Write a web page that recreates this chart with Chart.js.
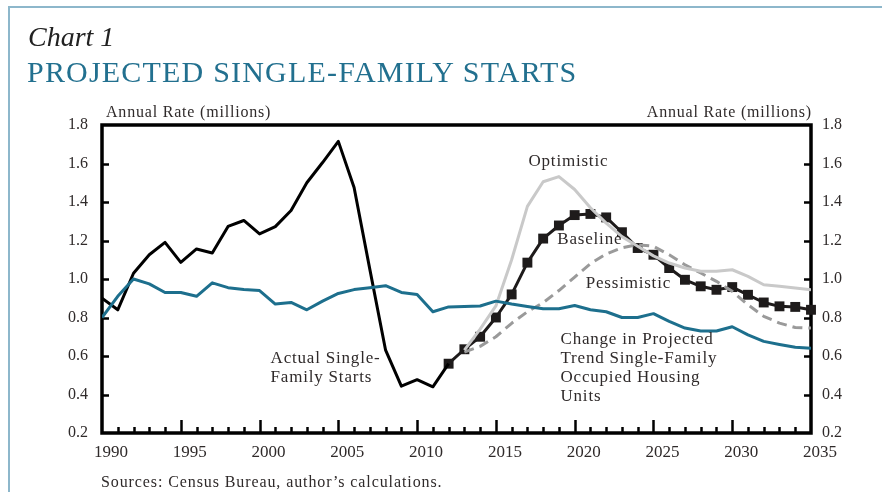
<!DOCTYPE html>
<html>
<head>
<meta charset="utf-8">
<title>Projected Single-Family Starts</title>
<script src="https://cdn.jsdelivr.net/npm/chart.js@4/dist/chart.umd.min.js"></script>
<style>
  html, body { margin: 0; padding: 0; background: #fff; }
  body { width: 882px; height: 492px; position: relative; overflow: hidden; font-family: "Liberation Serif", serif; color: #2f2a2a; }
  .frame { position: absolute; left: 8px; top: 6px; right: 0; bottom: 0; border-top: 2px solid #8db7cb; border-left: 2px solid #8db7cb; }
  #chart { position: absolute; left: 0; top: 0; }
  .txt { position: absolute; white-space: nowrap; z-index: 2; }
  .chart-no { left: 28px; top: 21px; font-size: 28px; font-style: italic; color: #222; }
  .title { left: 27px; top: 55px; font-size: 30px; color: #22708f; letter-spacing: 1.2px; }
  .unit { top: 103px; font-size: 16px; letter-spacing: 0.8px; }
  .sources { left: 101px; top: 473px; font-size: 16px; letter-spacing: 0.9px; }
</style>
</head>
<body>
<div class="frame"></div>
<div class="txt chart-no">Chart 1</div>
<div class="txt title">PROJECTED SINGLE-FAMILY STARTS</div>
<div class="txt unit" style="left:106px">Annual Rate (millions)</div>
<div class="txt unit" style="right:70px">Annual Rate (millions)</div>
<div class="txt sources">Sources: Census Bureau, author’s calculations.</div>
<canvas id="chart" width="882" height="492"></canvas>
<script>
// ===== Data =====
const actualYears = [1990, 1991, 1992, 1993, 1994, 1995, 1996, 1997, 1998, 1999, 2000, 2001,
  2002, 2003, 2004, 2005, 2006, 2007, 2008, 2009, 2010, 2011, 2012];
const actualStarts = [0.90, 0.84, 1.03, 1.126, 1.19, 1.086, 1.156, 1.135, 1.273, 1.304, 1.234, 1.272,
  1.356, 1.50, 1.605, 1.715, 1.475, 1.05, 0.63, 0.443, 0.477, 0.44, 0.56];

const trendYears = [1990, 1991, 1992, 1993, 1994, 1995, 1996, 1997, 1998, 1999, 2000, 2001, 2002,
  2003, 2004, 2005, 2006, 2007, 2008, 2009, 2010, 2011, 2012, 2013, 2014, 2015, 2016, 2017, 2018,
  2019, 2020, 2021, 2022, 2023, 2024, 2025, 2026, 2027, 2028, 2029, 2030, 2031, 2032, 2033, 2034, 2035];
const trendHousing = [0.80, 0.91, 1.00, 0.975, 0.93, 0.93, 0.91, 0.98, 0.955, 0.945, 0.94, 0.87, 0.878,
  0.84, 0.885, 0.925, 0.945, 0.955, 0.965, 0.93, 0.92, 0.83, 0.855, 0.857, 0.86, 0.885, 0.87, 0.857, 0.845,
  0.845, 0.862, 0.84, 0.83, 0.80, 0.80, 0.82, 0.78, 0.745, 0.73, 0.73, 0.752, 0.71, 0.676, 0.66, 0.645, 0.64];

const baselineYears = [2012, 2013, 2014, 2015, 2016, 2017, 2018, 2019, 2020, 2021, 2022, 2023,
  2024, 2025, 2026, 2027, 2028, 2029, 2030, 2031, 2032, 2033, 2034, 2035];
const baseline = [0.56, 0.635, 0.70, 0.80, 0.92, 1.085, 1.21, 1.278, 1.332, 1.338, 1.32, 1.243,
  1.161, 1.126, 1.057, 0.996, 0.962, 0.944, 0.958, 0.918, 0.878, 0.858, 0.855, 0.84];

const scenarioYears = [2013, 2014, 2015, 2016, 2017, 2018, 2019, 2020, 2021, 2022, 2023, 2024,
  2025, 2026, 2027, 2028, 2029, 2030, 2031, 2032, 2033, 2034, 2035];
const optimistic = [0.63, 0.74, 0.86, 1.10, 1.377, 1.505, 1.532, 1.465, 1.37, 1.29, 1.22, 1.17,
  1.12, 1.083, 1.057, 1.04, 1.04, 1.048, 1.014, 0.97, 0.962, 0.953, 0.944];
const pessimistic = [0.62, 0.65, 0.70, 0.77, 0.83, 0.877, 0.94, 1.01, 1.08, 1.13, 1.162, 1.178,
  1.17, 1.126, 1.074, 1.031, 0.988, 0.936, 0.866, 0.806, 0.771, 0.748, 0.745];

const yTicks = [0.2, 0.4, 0.6, 0.8, 1.0, 1.2, 1.4, 1.6, 1.8];
const xTicks = [1990, 1995, 2000, 2005, 2010, 2015, 2020, 2025, 2030, 2035];

const toPoints = (xs, ys) => xs.map((x, i) => ({ x, y: ys[i] }));

// ===== Styles =====
const FONT = '"Liberation Serif", serif';
const TEXT = '#2f2a2a';
const TEAL = '#1d6f8d';

// ===== Frame, inward ticks and in-plot labels =====
const framePlugin = {
  id: 'frame',
  beforeDatasetsDraw(chart) {
    const { ctx, chartArea: a, scales } = chart;
    ctx.save();
    ctx.strokeStyle = '#000';
    ctx.lineWidth = 2.5;
    ctx.beginPath();
    yTicks.slice(1, -1).forEach(v => {
      const py = Math.round(scales.y.getPixelForValue(v)) + 0.5;
      ctx.moveTo(a.left, py); ctx.lineTo(a.left + 7, py);
      ctx.moveTo(a.right, py); ctx.lineTo(a.right - 7, py);
    });
    for (let yr = 1991; yr < 2035; yr++) {
      const px = Math.round(scales.x.getPixelForValue(yr)) + 0.5;
      const len = yr % 5 === 0 ? 13 : 6;
      ctx.moveTo(px, a.bottom); ctx.lineTo(px, a.bottom - len);
    }
    ctx.stroke();
    ctx.lineWidth = 3.5;
    ctx.strokeRect(a.left, a.top, a.right - a.left, a.bottom - a.top);
    ctx.restore();
  },
  afterDraw(chart) {
    const { ctx, scales } = chart;
    const labels = [
      { x: 2019.6, y: 1.61, lines: ['Optimistic'], align: 'center' },
      { x: 2018.9, y: 1.204, lines: ['Baseline'], align: 'left' },
      { x: 2020.7, y: 0.976, lines: ['Pessimistic'], align: 'left' },
      { x: 2019.1, y: 0.685, lines: ['Change in Projected', 'Trend Single-Family', 'Occupied Housing', 'Units'], align: 'left' },
      { x: 2000.7, y: 0.589, lines: ['Actual Single-', 'Family Starts'], align: 'left' },
    ];
    ctx.save();
    ctx.font = '17px ' + FONT;
    ctx.letterSpacing = '0.8px';
    ctx.fillStyle = TEXT;
    ctx.textBaseline = 'middle';
    labels.forEach(l => {
      ctx.textAlign = l.align;
      const px = scales.x.getPixelForValue(l.x);
      const py = scales.y.getPixelForValue(l.y);
      l.lines.forEach((t, i) => ctx.fillText(t, px, py + i * 19));
    });
    ctx.restore();
  }
};

const yScale = (position, width, padding) => ({
  type: 'linear',
  position,
  min: 0.2,
  max: 1.8,
  grid: { display: false, drawTicks: false },
  border: { display: false },
  ticks: {
    stepSize: 0.2,
    padding,
    color: TEXT,
    font: { family: FONT, size: 16 },
    callback: v => v.toFixed(1)
  },
  afterFit: s => { s.width = width; }
});

new Chart(document.getElementById('chart'), {
  type: 'line',
  data: {
    datasets: [
      {
        label: 'Change in Projected Trend Single-Family Occupied Housing Units',
        data: toPoints(trendYears, trendHousing),
        borderColor: TEAL,
        borderWidth: 3,
        pointRadius: 0,
      },
      {
        label: 'Optimistic',
        data: toPoints(scenarioYears, optimistic),
        borderColor: '#c9c9c9',
        borderWidth: 3,
        pointRadius: 0,
      },
      {
        label: 'Pessimistic',
        data: toPoints(scenarioYears, pessimistic),
        borderColor: '#9a9a9a',
        borderWidth: 3,
        borderDash: [10, 6],
        pointRadius: 0,
      },
      {
        label: 'Actual Single-Family Starts',
        data: toPoints(actualYears, actualStarts),
        borderColor: '#000',
        borderWidth: 3,
        pointRadius: 0,
      },
      {
        label: 'Baseline',
        data: toPoints(baselineYears, baseline),
        borderColor: '#1e1b1b',
        borderWidth: 3,
        pointStyle: 'rect',
        pointRadius: 7,
        pointBackgroundColor: '#1e1b1b',
        pointBorderWidth: 0,
        clip: 10,
      },
    ]
  },
  options: {
    responsive: false,
    animation: false,
    events: [],
    layout: { padding: { top: 125, left: 0, right: 0, bottom: 0 } },
    elements: { line: { tension: 0, borderJoinStyle: 'round', borderCapStyle: 'butt' } },
    scales: {
      x: {
        type: 'linear',
        min: 1990,
        max: 2035,
        grid: { display: false, drawTicks: false },
        border: { display: false },
        afterBuildTicks: s => { s.ticks = xTicks.map(v => ({ value: v })); },
        ticks: {
          padding: 9,
          labelOffset: 9,
          maxRotation: 0,
          autoSkip: false,
          color: TEXT,
          font: { family: FONT, size: 17 },
          callback: v => String(v)
        },
        afterFit: s => { s.height = 59; }
      },
      y: yScale('left', 102, 14),
      y2: yScale('right', 71, 11),
    },
    plugins: {
      legend: { display: false },
      tooltip: { enabled: false }
    }
  },
  plugins: [framePlugin]
});
</script>
</body>
</html>
